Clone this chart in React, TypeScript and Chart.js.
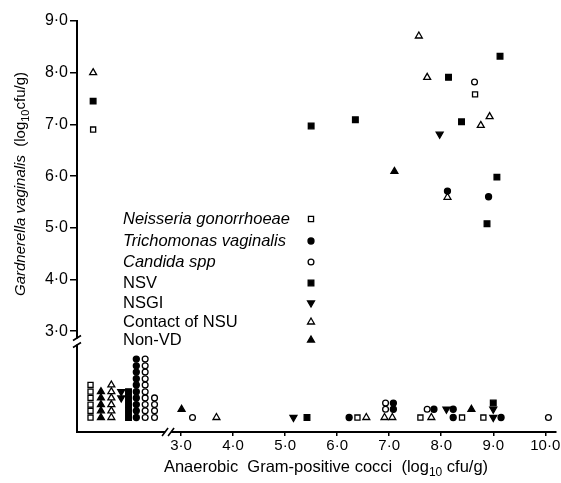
import React, { useEffect, useRef } from 'react';
import { Chart, registerables } from 'chart.js';

Chart.register(...registerables);

// ---------- data ----------
const X_TICKS = [3, 4, 5, 6, 7, 8, 9, 10];
const Y_TICKS = [3, 4, 5, 6, 7, 8, 9];
const X_RANGE = [1.0, 10.2];
const Y_RANGE = [1.05, 9.0];
const X_BREAK = 2.75;
const Y_BREAK = 2.8;

const SERIES_NAMES = [
  'Neisseria gonorrhoeae',
  'Trichomonas vaginalis',
  'Candida spp',
  'NSV',
  'NSGI',
  'Contact of NSU',
  'Non-VD',
];

const NEISSERIA: [number, number][] = [
  [1.31, 6.9], [8.65, 7.58],
  [6.39, 1.33], [7.6, 1.33], [8.4, 1.33], [8.81, 1.33],
  [1.26, 1.33], [1.26, 1.46], [1.26, 1.58], [1.26, 1.71], [1.26, 1.83], [1.26, 1.96],
];

const TRICHOMONAS: [number, number][] = [
  [8.12, 5.71], [8.91, 5.6],
  [6.23, 1.33], [7.08, 1.49], [7.08, 1.61], [7.86, 1.49], [8.23, 1.49], [8.23, 1.33], [9.15, 1.33],
  [2.14, 1.33], [2.14, 1.46], [2.14, 1.58], [2.14, 1.71], [2.14, 1.83],
  [2.14, 1.96], [2.14, 2.08], [2.14, 2.21], [2.14, 2.33], [2.14, 2.46],
];

const CANDIDA: [number, number][] = [
  [8.64, 7.82],
  [3.22, 1.33], [6.93, 1.49], [6.93, 1.61], [7.73, 1.49], [10.06, 1.33],
  [2.31, 1.33], [2.31, 1.46], [2.31, 1.58], [2.31, 1.71], [2.31, 1.83],
  [2.31, 1.96], [2.31, 2.08], [2.31, 2.21], [2.31, 2.33], [2.31, 2.46],
  [2.49, 1.33], [2.49, 1.46], [2.49, 1.58], [2.49, 1.71],
];

const NSV: [number, number][] = [
  [1.31, 7.45], [5.5, 6.97], [6.35, 7.09], [8.14, 7.91], [9.13, 8.32],
  [8.39, 7.05], [9.07, 5.98], [8.88, 5.08],
  [5.42, 1.33], [9.0, 1.61],
  [1.99, 1.33], [1.99, 1.46], [1.99, 1.58], [1.99, 1.71], [1.99, 1.83],
];

const NSGI: [number, number][] = [
  [7.97, 6.81],
  [5.16, 1.33], [8.1, 1.49], [9.0, 1.49], [9.0, 1.33],
  [1.85, 1.71], [1.85, 1.83],
];

const CONTACT_NSU: [number, number][] = [
  [1.31, 8.0], [7.57, 8.71], [7.73, 7.91], [8.93, 7.15], [8.76, 6.98], [8.12, 5.59],
  [3.68, 1.33], [6.56, 1.33], [6.91, 1.33], [7.06, 1.33], [7.81, 1.33],
  [1.66, 1.33], [1.66, 1.46], [1.66, 1.58], [1.66, 1.71], [1.66, 1.83], [1.66, 1.96],
];

const NON_VD: [number, number][] = [
  [7.1, 6.09],
  [3.01, 1.49], [8.58, 1.49],
  [1.46, 1.33], [1.46, 1.46], [1.46, 1.58], [1.46, 1.71], [1.46, 1.83],
];

const SERIES_DATA = [NEISSERIA, TRICHOMONAS, CANDIDA, NSV, NSGI, CONTACT_NSU, NON_VD];

// ---------- styles ----------
type MarkStyle = { shape: 'rect' | 'circle' | 'triangle'; filled: boolean; r: number; rot: number };
const MARKS: MarkStyle[] = [
  { shape: 'rect', filled: false, r: 3.6, rot: 0 },
  { shape: 'circle', filled: true, r: 3.0, rot: 0 },
  { shape: 'circle', filled: false, r: 2.9, rot: 0 },
  { shape: 'rect', filled: true, r: 4.0, rot: 0 },
  { shape: 'triangle', filled: true, r: 4.0, rot: 180 },
  { shape: 'triangle', filled: false, r: 4.0, rot: 0 },
  { shape: 'triangle', filled: true, r: 4.0, rot: 0 },
];
const ITALIC_NAMES = [true, true, true, false, false, false, false];

const FONT = '"Liberation Sans", Arial, Helvetica, sans-serif';
const fmt = (v: number) => v.toFixed(1).replace('.', '\u00B7');

function drawMark(ctx: CanvasRenderingContext2D, m: MarkStyle, x: number, y: number) {
  ctx.save();
  ctx.beginPath();
  if (m.shape === 'circle') {
    ctx.arc(x, y, m.r, 0, Math.PI * 2);
  } else if (m.shape === 'rect') {
    const s = Math.SQRT1_2 * m.r;
    ctx.rect(x - s, y - s, 2 * s, 2 * s);
  } else {
    let rad = (m.rot * Math.PI) / 180;
    ctx.moveTo(x + Math.sin(rad) * m.r, y - Math.cos(rad) * m.r);
    rad += (2 * Math.PI) / 3;
    ctx.lineTo(x + Math.sin(rad) * m.r, y - Math.cos(rad) * m.r);
    rad += (2 * Math.PI) / 3;
    ctx.lineTo(x + Math.sin(rad) * m.r, y - Math.cos(rad) * m.r);
    ctx.closePath();
  }
  ctx.fillStyle = m.filled ? '#000' : '#fff';
  ctx.fill();
  ctx.lineWidth = 1.3;
  ctx.strokeStyle = '#000';
  ctx.stroke();
  ctx.restore();
}

type Seg = { t: string; italic?: boolean; sub?: boolean };
function drawRich(ctx: CanvasRenderingContext2D, segs: Seg[], cx: number, cy: number, size: number) {
  const fontFor = (s: Seg) => `${s.italic ? 'italic ' : ''}${s.sub ? Math.round(size * 0.72) : size}px ${FONT}`;
  let total = 0;
  for (const s of segs) {
    ctx.font = fontFor(s);
    total += ctx.measureText(s.t).width;
  }
  let x = cx - total / 2;
  ctx.textBaseline = 'middle';
  ctx.textAlign = 'left';
  ctx.fillStyle = '#000';
  for (const s of segs) {
    ctx.font = fontFor(s);
    ctx.fillText(s.t, x, cy + (s.sub ? size * 0.35 : 0));
    x += ctx.measureText(s.t).width;
  }
}

const decorPlugin = {
  id: 'decor',
  afterDraw(chart: any) {
    const ctx: CanvasRenderingContext2D = chart.ctx;
    const xs = chart.scales.x;
    const ys = chart.scales.y;
    const area = chart.chartArea;
    ctx.save();

    // x axis break
    const bx = xs.getPixelForValue(X_BREAK);
    const yb = area.bottom;
    ctx.fillStyle = '#fff';
    ctx.fillRect(bx - 3, yb - 3, 6, 6);
    ctx.strokeStyle = '#000';
    ctx.lineWidth = 1.6;
    ctx.beginPath();
    ctx.moveTo(bx - 6, yb + 4); ctx.lineTo(bx, yb - 4);
    ctx.moveTo(bx, yb + 4); ctx.lineTo(bx + 6, yb - 4);
    ctx.stroke();

    // y axis break
    const by = ys.getPixelForValue(Y_BREAK);
    const xl = area.left;
    ctx.fillStyle = '#fff';
    ctx.fillRect(xl - 3, by - 3, 6, 6);
    ctx.beginPath();
    ctx.moveTo(xl - 4, by - 1); ctx.lineTo(xl + 4, by - 6);
    ctx.moveTo(xl - 4, by + 6); ctx.lineTo(xl + 4, by + 1);
    ctx.stroke();

    // legend (text left, symbol right)
    const legX = 123;
    const symX = 311;
    const legY = [219, 241, 262, 283, 303, 322, 340];
    SERIES_NAMES.forEach((name, i) => {
      ctx.font = `${ITALIC_NAMES[i] ? 'italic ' : ''}16.5px ${FONT}`;
      ctx.fillStyle = '#000';
      ctx.textAlign = 'left';
      ctx.textBaseline = 'middle';
      ctx.fillText(name, legX, legY[i]);
      drawMark(ctx, MARKS[i], symX, legY[i]);
    });

    // x title
    drawRich(
      ctx,
      [{ t: 'Anaerobic  Gram-positive cocci  (log' }, { t: '10', sub: true }, { t: ' cfu/g)' }],
      326,
      467,
      16.5
    );

    // y title
    ctx.save();
    ctx.translate(21, 184);
    ctx.rotate(-Math.PI / 2);
    drawRich(
      ctx,
      [{ t: 'Gardnerella vaginalis', italic: true }, { t: '  (log' }, { t: '10', sub: true }, { t: 'cfu/g)' }],
      0,
      0,
      15
    );
    ctx.restore();

    ctx.restore();
  },
};

export default function App() {
  const ref = useRef<HTMLCanvasElement | null>(null);

  useEffect(() => {
    if (!ref.current) return;
    const datasets = SERIES_DATA.map((pts, i) => {
      const m = MARKS[i];
      return {
        label: SERIES_NAMES[i],
        data: pts.map(([x, y]) => ({ x, y })),
        pointStyle: m.shape,
        pointRadius: m.r,
        pointRotation: m.rot,
        pointBackgroundColor: m.filled ? '#000' : '#fff',
        pointBorderColor: '#000',
        pointBorderWidth: 1.3,
        showLine: false,
        clip: false as any,
      };
    });

    const chart = new Chart(ref.current, {
      type: 'scatter',
      data: { datasets },
      options: {
        animation: false,
        responsive: false,
        maintainAspectRatio: false,
        layout: { padding: { left: 0, right: 0, top: 21, bottom: 0 } },
        plugins: {
          legend: { display: false },
          tooltip: { enabled: false },
        },
        scales: {
          x: {
            type: 'linear',
            min: X_RANGE[0],
            max: X_RANGE[1],
            afterBuildTicks: (s: any) => {
              s.ticks = X_TICKS.map((v) => ({ value: v }));
            },
            afterFit: (s: any) => {
              s.height = 51;
              s.paddingLeft = 0;
              s.paddingRight = 0;
            },
            ticks: {
              autoSkip: false,
              maxRotation: 0,
              color: '#000',
              padding: 1,
              font: { family: FONT, size: 15 },
              callback: (v: any) => fmt(Number(v)),
            },
            grid: {
              drawOnChartArea: false,
              drawTicks: true,
              tickLength: 4,
              color: '#000',
              lineWidth: 1.5,
            },
            border: { display: true, color: '#000', width: 2 },
          },
          y: {
            type: 'linear',
            min: Y_RANGE[0],
            max: Y_RANGE[1],
            afterBuildTicks: (s: any) => {
              s.ticks = Y_TICKS.map((v) => ({ value: v }));
            },
            afterFit: (s: any) => {
              s.width = 77;
              s.paddingTop = 0;
              s.paddingBottom = 0;
            },
            ticks: {
              autoSkip: false,
              color: '#000',
              padding: 2,
              font: { family: FONT, size: 16 },
              callback: (v: any) => fmt(Number(v)),
            },
            grid: {
              drawOnChartArea: false,
              drawTicks: true,
              tickLength: 7,
              color: '#000',
              lineWidth: 1.5,
            },
            border: { display: true, color: '#000', width: 2 },
          },
        },
      },
      plugins: [decorPlugin],
    } as any);

    return () => chart.destroy();
  }, []);

  return (
    <div style={{ position: 'fixed', left: 0, top: 0, width: 561, height: 483, background: '#fff' }}>
      <canvas ref={ref} width={561} height={483} style={{ width: 561, height: 483, display: 'block' }} />
    </div>
  );
}
